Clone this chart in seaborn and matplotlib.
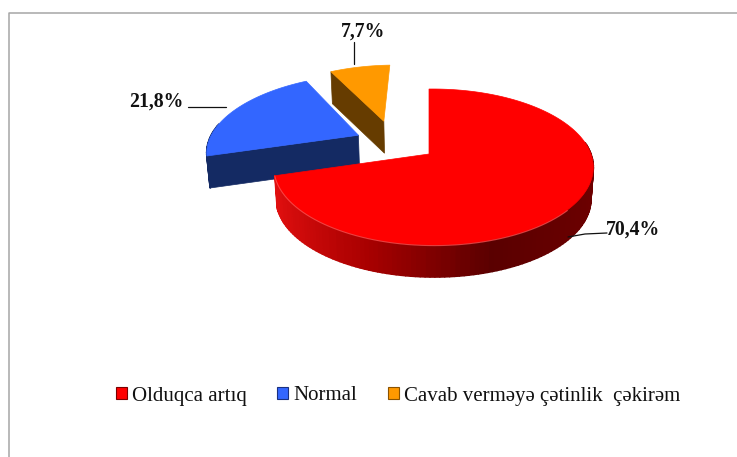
import numpy as np
import seaborn as sns
from matplotlib import pyplot as plt
from matplotlib.collections import PolyCollection
from matplotlib.patches import Patch

categories = ["Olduqca artıq", "Normal", "Cavab verməyə çətinlik  çəkirəm"]
shares = [70.4, 21.8, 7.7]
share_labels = ["70,4%", "21,8%", "7,7%"]

top_colors = ["#ff0000", "#3366ff", "#ff9900"]
side_colors = ["#8a0000", "#142a63", "#663c00"]
edge_colors = ["#7a0000", "#1a3080", "#8a5200"]

# fake 3d camera, in pixels of the 737x457 canvas
ORIGIN = (429, 154)
RADIUS_X, RADIUS_Y = 157.4, 75.8
TILT, PAN = 1 / 6, 0.028
DEPTH = 32
SHRINK = 0.985
EXPLODE = [(0, 0), (-0.474, 0.262), (-0.312, 0.47)]
SLICE_SCALE = [1, 1.03, 1]


def project(u, v, lower=False):
    u, v = np.asarray(u, dtype=float), np.asarray(v, dtype=float)
    w = 1 + TILT * v - PAN * u
    x = ORIGIN[0] + RADIUS_X * u / w
    y = ORIGIN[1] - RADIUS_Y * v / w
    if lower:
        return ORIGIN[0] + (x - ORIGIN[0]) * SHRINK, y + DEPTH
    return x, y


def draw_slice(ax, start, end, offset, scale, top, side, zorder, gradient=None):
    # angles run clockwise from twelve o'clock
    n = max(int((end - start) / 1.5), 2)
    theta = np.radians(np.linspace(start, end, n))
    u, v = offset[0] + scale * np.sin(theta), offset[1] + scale * np.cos(theta)
    x, y = project(u, v)
    xb, yb = project(u, v, lower=True)
    ax0, ay0 = project(offset[0], offset[1])
    bx0, by0 = project(offset[0], offset[1], lower=True)

    # only the part of the rim that faces the viewer
    visible = [i for i in range(n - 1) if np.cos(theta[i]) < 0.15]
    quads = [
        [(x[i], y[i]), (x[i + 1], y[i + 1]), (xb[i + 1], yb[i + 1]), (xb[i], yb[i])]
        for i in visible
    ]
    if gradient is None:
        quad_colors = [side] * len(quads)
    else:
        steps = sns.blend_palette(gradient, 101)
        quad_colors = [steps[int(50 * (1 + np.sin(theta[i])))] for i in visible]
    if quads:
        ax.add_collection(
            PolyCollection(
                quads, facecolors=quad_colors, edgecolors=quad_colors,
                linewidths=1.2, zorder=zorder,
            )
        )

    # wall along the leading edge, the red one is hidden under its own top
    if gradient is None:
        ax.fill(
            [x[0], ax0, bx0, xb[0]], [y[0], ay0, by0, yb[0]],
            color=side, linewidth=0.5, zorder=zorder,
        )

    ax.fill(np.r_[ax0, x], np.r_[ay0, y], color=top, linewidth=0.5, zorder=3)


sns.set_theme(style="white")
plt.rcParams["font.family"] = ["Liberation Serif", "DejaVu Serif"]

fig = plt.figure(figsize=(7.37, 4.57), dpi=100)
ax = fig.add_axes([0, 0, 1, 1])
ax.set_xlim(0, 737)
ax.set_ylim(457, 0)
ax.axis("off")

# chart frame, only left and top are visible in the crop
ax.plot([9.5, 9.5, 737], [457, 12.5, 12.5], color="#a6a6a6", linewidth=1.1)

total = sum(shares)
bounds = np.cumsum([0] + shares) / total * 360
ramp = ["#e41010", "#a80000", "#5a0000", "#6e0000"]
for i in [2, 1, 0]:
    draw_slice(
        ax, bounds[i], bounds[i + 1], EXPLODE[i], SLICE_SCALE[i],
        top_colors[i], side_colors[i], 1 + (2 - i) * 0.1,
        gradient=ramp if i == 0 else None,
    )

# thin light rim on the front edge of the red top
rim = np.radians(np.linspace(130, bounds[1], 60))
rim_x, rim_y = project(np.sin(rim), np.cos(rim))
ax.plot(rim_x, rim_y + 0.6, color="#ff5a5a", linewidth=0.8, alpha=0.7, zorder=3.1)

label_style = dict(fontsize=14.2, fontweight="bold", color="#111111", va="center")
ax.text(633.5, 229.5, share_labels[0], ha="center", **label_style)
ax.text(156.5, 102, share_labels[1], ha="center", **label_style)
ax.text(363, 32, share_labels[2], ha="center", **label_style)

ax.plot([568, 585, 607], [237, 234, 233], color="#111111", linewidth=0.9, zorder=5)
ax.plot([188, 226], [107, 107], color="#111111", linewidth=0.9, zorder=5)
ax.plot([354, 354], [42, 64], color="#111111", linewidth=0.9, zorder=5)

handles = [
    Patch(facecolor=top_colors[i], edgecolor=edge_colors[i], linewidth=0.8, label=categories[i])
    for i in range(3)
]
ax.legend(
    handles=handles,
    ncol=3,
    loc="center left",
    bbox_to_anchor=(116 / 737, 1 - 396 / 457),
    frameon=False,
    fontsize=15,
    borderpad=0,
    borderaxespad=0,
    handlelength=0.53,
    handleheight=0.53,
    handletextpad=0.25,
    columnspacing=1.45,
    labelcolor="#111111",
)

fig.savefig("out.png", dpi=100)
